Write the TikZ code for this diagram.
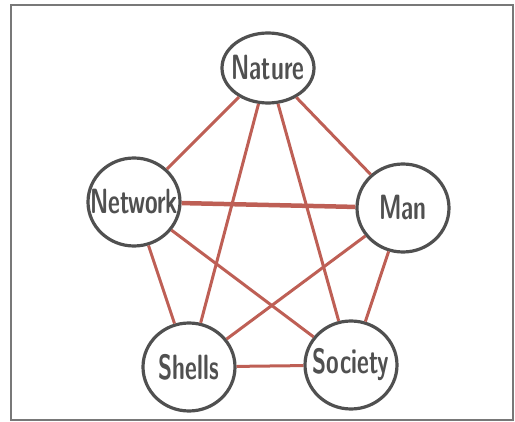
\documentclass[tikz,border=0pt]{standalone}
\usepackage{tikz}
\usetikzlibrary{shapes.geometric}
\definecolor{nodegray}{RGB}{80,80,80}
\definecolor{linkred}{RGB}{190,95,85}
\definecolor{framegray}{RGB}{120,120,120}
\newcommand{\topiclabel}[1]{\makebox[0pt]{\scalebox{0.85}[1.3]{#1}}}

\begin{document}
\begin{tikzpicture}[x=1pt,y=-1pt,
  topic/.style={
    ellipse, draw=nodegray, line width=3.2pt,
    fill=white, inner sep=0pt,
    minimum width=92pt, minimum height=88pt,
    font=\sffamily\bfseries\fontsize{27}{27}\selectfont,
    text=nodegray
  },
  link/.style={draw=linkred, line width=3pt}
]
\useasboundingbox (0,0) rectangle (515,422);
\draw[framegray, line width=1.2pt] (11,5) rectangle (513,420);

\node[topic, minimum height=70pt] (nature) at (268,68)  {\topiclabel{Nature}};
\node[topic] (network) at (134,202) {\topiclabel{Network}};
\node[topic] (man)     at (403,208) {\topiclabel{Man}};
\node[topic] (shells)  at (189,367) {\topiclabel{Shells}};
\node[topic] (society) at (351,365) {\topiclabel{Society}};

\draw[link] (nature) -- (network);
\draw[link] (nature) -- (man);
\draw[link] (nature) -- (shells);
\draw[link] (nature) -- (society);
\draw[link, line width=4.5pt] (network) -- (man);
\draw[link] (network) -- (shells);
\draw[link] (network) -- (society);
\draw[link] (man) -- (shells);
\draw[link] (man) -- (society);
\draw[link] (shells) -- (society);
\end{tikzpicture}
\end{document}
